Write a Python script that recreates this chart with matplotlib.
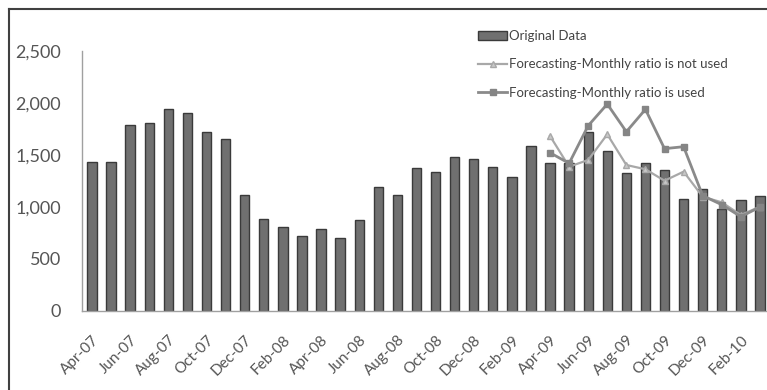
import matplotlib
matplotlib.use("Agg")
import matplotlib.pyplot as plt
from matplotlib.lines import Line2D
import numpy as np

months = ["Apr-07", "May-07", "Jun-07", "Jul-07", "Aug-07", "Sep-07", "Oct-07", "Nov-07",
          "Dec-07", "Jan-08", "Feb-08", "Mar-08", "Apr-08", "May-08", "Jun-08", "Jul-08",
          "Aug-08", "Sep-08", "Oct-08", "Nov-08", "Dec-08", "Jan-09", "Feb-09", "Mar-09",
          "Apr-09", "May-09", "Jun-09", "Jul-09", "Aug-09", "Sep-09", "Oct-09", "Nov-09",
          "Dec-09", "Jan-10", "Feb-10", "Mar-10"]

original = [1427, 1433, 1782, 1802, 1939, 1898, 1721, 1648,
            1109, 885, 805, 721, 788, 699, 869, 1188,
            1110, 1369, 1337, 1481, 1462, 1385, 1286, 1584,
            1420, 1417, 1721, 1533, 1327, 1417, 1353, 1074,
            1170, 978, 1064, 1103]

# Forecasts cover Apr-09 .. Mar-10
forecast_start = "Apr-09"
ratio_not_used = [1680, 1385, 1449, 1696, 1401, 1360, 1250, 1337, 1096, 1042, 920, 1000]
ratio_used = [1519, 1417, 1779, 1987, 1721, 1936, 1558, 1577, 1106, 1019, 904, 997]

y_ticks = [0, 500, 1000, 1500, 2000, 2500]

W, H = 767, 390
fig = plt.figure(figsize=(W / 100, H / 100), dpi=100)
plt.rcParams["font.family"] = ["Lato", "DejaVu Sans"]

ax = fig.add_axes([81.7 / W, (H - 310.7) / H, (W - 81.7) / W, 260 / H])

x = np.arange(len(months))
bars = ax.bar(x, original, width=0.49, color="#707070", edgecolor="#3a3a3a", linewidth=1.0,
              label="Original Data", zorder=2)

i0 = months.index(forecast_start)
xf = x[i0:i0 + len(ratio_used)]
l1, = ax.plot(xf, ratio_not_used, color="#a8a8a8", lw=1.6, marker="^", markersize=4,
              markerfacecolor="#c8c8c8", markeredgecolor="#a8a8a8",
              label="Forecasting-Monthly ratio is not used", zorder=3)
l2, = ax.plot(xf, ratio_used, color="#8a8a8a", lw=2.0, marker="s", markersize=5,
              markerfacecolor="#858585", markeredgecolor="#858585",
              label="Forecasting-Monthly ratio is used", zorder=4)

ax.set_xlim(-0.54, 35.37)
ax.set_ylim(0, 2500)
ax.set_yticks(y_ticks)
ax.set_yticklabels([f"{v:,}" for v in y_ticks])
ax.set_xticks(x[::2])
ax.set_xticklabels(months[::2], rotation=45, ha="right", va="top",
                   rotation_mode="anchor")

for s in ["top", "right"]:
    ax.spines[s].set_visible(False)
ax.spines["left"].set_color("#a0a0a0")
ax.spines["bottom"].set_color("#a0a0a0")
ax.spines["left"].set_linewidth(1.0)
ax.spines["bottom"].set_linewidth(1.0)

ax.tick_params(axis="y", length=0, pad=15, labelsize=13, labelcolor="#555555")
ax.tick_params(axis="x", length=0, pad=16, labelsize=11, labelcolor="#555555")

leg = ax.legend(handles=[bars, l1, l2], loc="upper left",
                bbox_to_anchor=(478 / W, 1 - 30 / H),
                bbox_transform=fig.transFigure, frameon=False, fontsize=9.5,
                handlelength=2.2, handletextpad=0.15, labelspacing=1.25,
                borderpad=0, borderaxespad=0)
for t in leg.get_texts():
    t.set_color("#444444")

# outer frame (left and top edges)
fig.add_artist(Line2D([8.5 / W, 8.5 / W], [0, 1 - 9 / H], transform=fig.transFigure,
                      color="#404040", lw=1.5))
fig.add_artist(Line2D([8.5 / W, 1], [1 - 9 / H, 1 - 9 / H], transform=fig.transFigure,
                      color="#404040", lw=1.5))

fig.savefig("out.png", dpi=100)
